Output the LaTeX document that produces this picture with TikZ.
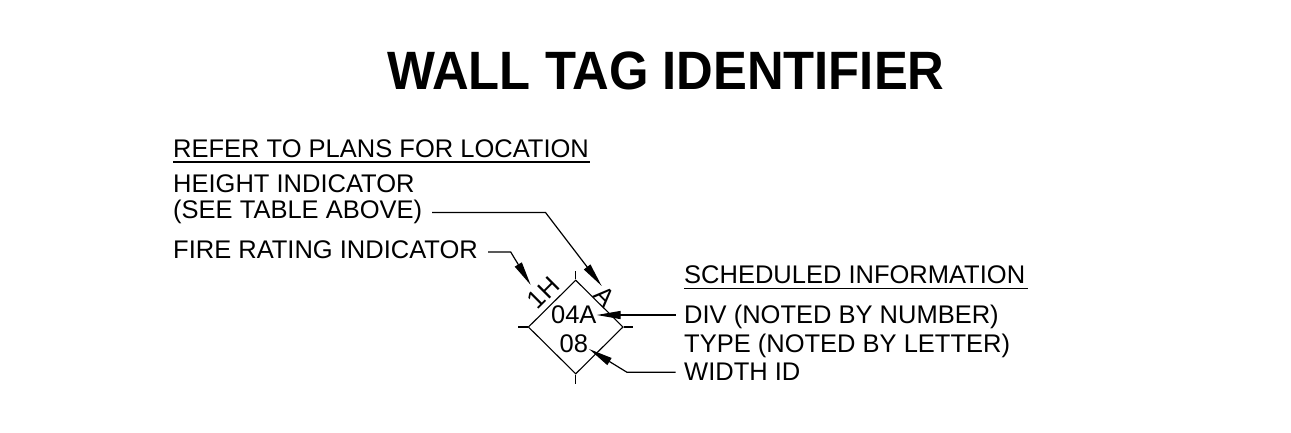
\documentclass[tikz,border=0pt]{standalone}
\usepackage{fontspec}
\setmainfont{Liberation Sans}
\newfontfamily\titlefont[FakeStretch=0.94]{Liberation Sans Bold}
\usetikzlibrary{arrows.meta,shapes.geometric}
\tikzset{
  lbl/.style={anchor=base west,inner sep=0pt,font=\fontsize{25.5}{28}\selectfont},
  tagtxt/.style={inner sep=0pt,font=\fontsize{25.5}{28}\selectfont},
  leader/.style={line width=1.2pt,-{Triangle[length=24pt,width=8pt]}},
  tick/.style={line width=1.1pt},
  rulel/.style={line width=1.9pt}
}
\begin{document}
\begin{tikzpicture}[x=1pt,y=-1pt]
\useasboundingbox (0,0) rectangle (1291,432);
\node[anchor=base west,inner sep=0pt,font=\titlefont\fontsize{54}{60}\selectfont] (title) at (387,89) {WALL TAG IDENTIFIER};
\node[lbl] (refer) at (173,157) {REFER TO PLANS FOR LOCATION};
\node[lbl] (height) at (173,192) {HEIGHT INDICATOR};
\node[lbl] (see) at (173,218) {(SEE TABLE ABOVE)};
\node[lbl] (fire) at (173,258) {FIRE RATING INDICATOR};
\node[lbl] (sched) at (684,283) {SCHEDULED INFORMATION};
\node[lbl] (div) at (684,323) {DIV (NOTED BY NUMBER)};
\node[lbl] (type) at (684,352) {TYPE (NOTED BY LETTER)};
\node[lbl] (width) at (684,380) {WIDTH ID};
\draw[rulel] (refer.base west)++(0,5) coordinate (ra) -- (590,162) coordinate (rb);
\draw[rulel] (sched.base west)++(0,5.5) coordinate (sa) -- (1028,288.5) coordinate (sb);
\node[diamond,draw,line width=1.1pt,inner sep=0pt,minimum width=95pt,minimum height=94pt,anchor=center] (tag) at (575.7,327) {};
\coordinate (tn) at (575.7,271);
\coordinate (ts) at (575.7,384);
\coordinate (tw) at (518,327);
\coordinate (te) at (633,327);
\draw[tick] (tag.north) -- (tn);
\draw[tick] (tag.south) -- (ts);
\draw[tick] (tag.west) -- (tw);
\draw[tick] (tag.east) -- (te);
\node[anchor=base east,inner sep=0pt,font=\fontsize{25.5}{28}\selectfont] (n04a) at (596.7,323) {04A};
\node[anchor=base east,inner sep=0pt,font=\fontsize{25.5}{28}\selectfont] (n08) at (588.3,352) {08};
\node[tagtxt,rotate=45] (n1h) at (543.3,293) {1H};
\node[tagtxt,rotate=-45] (na) at (605,296) {A};
\coordinate (hs) at (432,212.5);
\coordinate (hk) at (545.5,212.5);
\coordinate (ht) at (601.7,286);
\coordinate (fs) at (488,252);
\coordinate (fk) at (510.7,252);
\coordinate (ft) at (530.7,285);
\coordinate (ds) at (675.7,315);
\coordinate (dt) at (596.7,315);
\coordinate (ws) at (675.7,372.3);
\coordinate (wk) at (627,372.3);
\coordinate (wt) at (589,349);
\draw[leader] (hs) -- (hk) -- (ht);
\draw[leader] (fs) -- (fk) -- (ft);
\draw[leader] (ds) -- (dt);
\draw[leader] (ws) -- (wk) -- (wt);
\end{tikzpicture}
\end{document}
